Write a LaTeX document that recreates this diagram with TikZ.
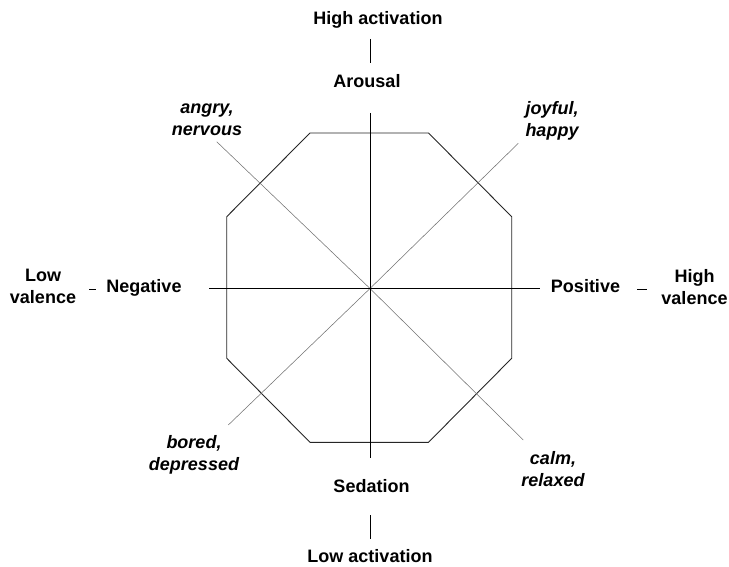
\documentclass[tikz,border=0pt]{standalone}
\usepackage{fontspec}
\setmainfont{Liberation Sans}
\begin{document}
\begin{tikzpicture}[x=1pt,y=-1pt,
  lbl/.style={font=\fontsize{18}{22}\selectfont\bfseries, inner sep=0pt},
  emo/.style={font=\fontsize{18}{22}\selectfont\bfseries\itshape, inner sep=0pt, align=center},
  two/.style={align=center},
  axis/.style={draw=black, line width=0.9pt},
  diag/.style={draw=black!55, line width=0.55pt},
  octo/.style={draw=black!85, line width=0.9pt, line join=miter},
  tick/.style={draw=black, line width=0.7pt}]
\useasboundingbox (0,0) rectangle (729,567);
% centre and axis ends
\coordinate (C) at (370,288.5);
\coordinate (vt) at (370,113);
\coordinate (vb) at (370,458);
\coordinate (hl) at (209,288.5);
\coordinate (hr) at (540,288.5);
% diagonal ends
\coordinate (dAng) at (216.7,141.7);
\coordinate (dJoy) at (518.3,143.3);
\coordinate (dBor) at (228.3,425);
\coordinate (dCal) at (523.3,440);
% octagon
\draw[octo] (310,133) -- (428.5,133) -- (511.7,216.7) -- (511.7,358.3)
  -- (428.5,442.3) -- (310,442.3) -- (226.7,358.3) -- (226.7,216.7) -- cycle;
% diagonals
\draw[diag] (dAng) -- (C) -- (dCal);
\draw[diag] (dJoy) -- (C) -- (dBor);
% axes
\draw[axis] (vt) -- (vb);
\draw[axis] (hl) -- (hr);
% labels
\node[lbl, anchor=base] (hact) at (378,25) {High activation};
\node[lbl, anchor=base] (arou) at (367,87.3) {Arousal};
\node[lbl, anchor=base] (sed) at (371.5,492.5) {Sedation};
\node[lbl, anchor=base] (lact) at (370,562.5) {Low activation};
\node[lbl, anchor=base] (neg) at (144,292.3) {Negative};
\node[lbl, anchor=base] (pos) at (585.5,292.3) {Positive};
\node[lbl, two, anchor=center] (lval) at (43,288.2) {\strut Low\\valence\strut};
\node[lbl, two, anchor=center] (hval) at (694.5,288.6) {\strut High\\valence\strut};
% emotion labels
\node[emo, anchor=center] (ang) at (207,120.3) {\strut angry,\\nervous\strut};
\node[emo, anchor=center] (joy) at (552,121.3) {\strut joyful,\\happy\strut};
\node[emo, anchor=center] (bor) at (194,454.6) {\strut bored,\\depressed\strut};
\node[emo, anchor=center] (cal) at (553,470.6) {\strut calm,\\relaxed\strut};
% ticks
\coordinate (t1a) at (370,39); \coordinate (t1b) at (370,63);
\coordinate (t2a) at (370,515); \coordinate (t2b) at (370,539);
\coordinate (t3a) at (89,289); \coordinate (t3b) at (96,289);
\coordinate (t4a) at (637,289); \coordinate (t4b) at (647,289);
\draw[tick] (t1a) -- (t1b);
\draw[tick] (t2a) -- (t2b);
\draw[tick] (t3a) -- (t3b);
\draw[tick] (t4a) -- (t4b);
\end{tikzpicture}
\end{document}
